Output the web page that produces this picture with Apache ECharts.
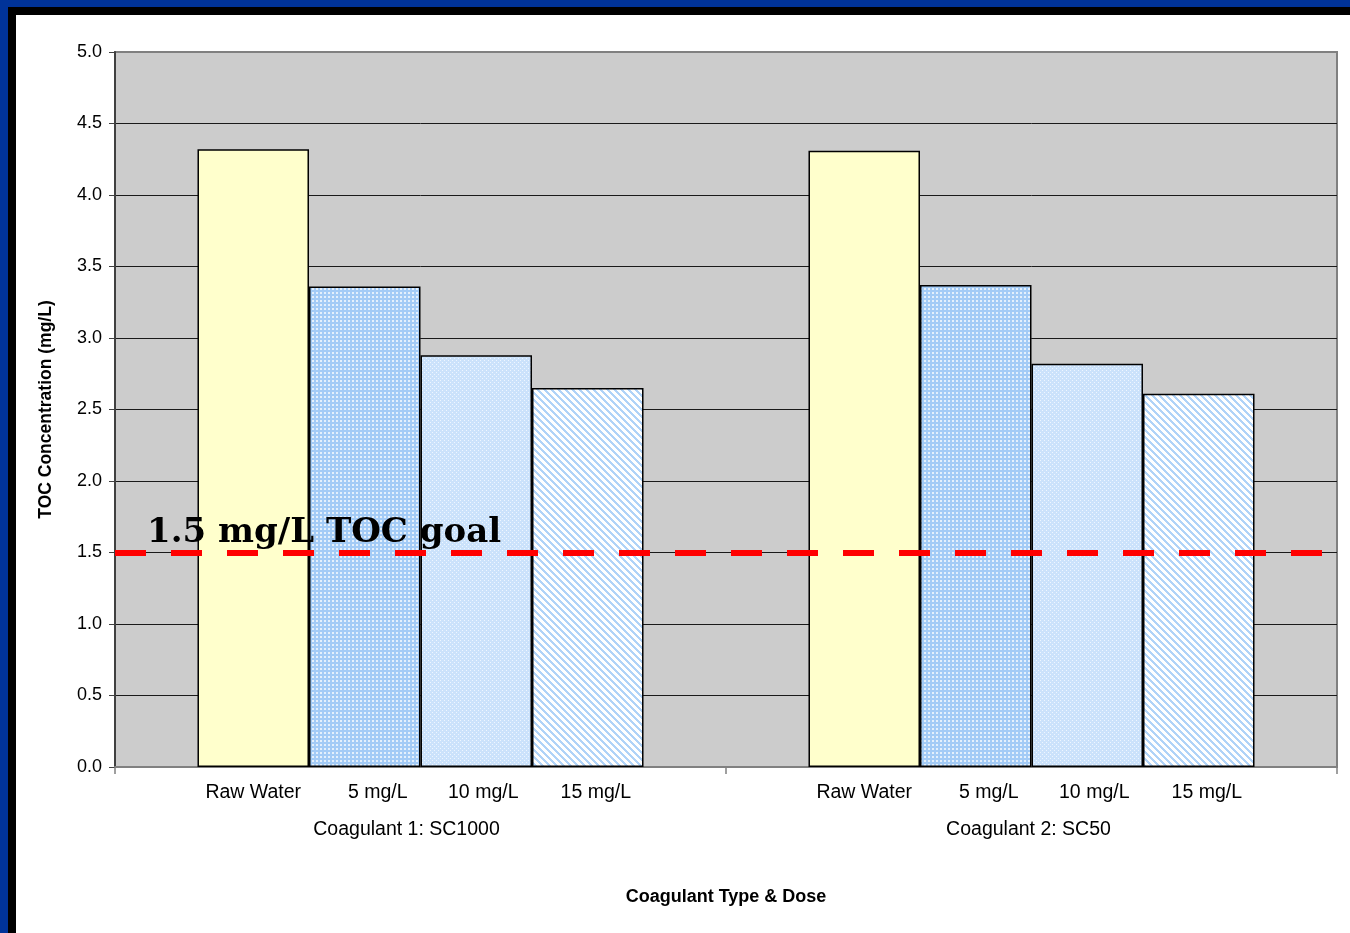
<!DOCTYPE html>
<html>
<head>
<meta charset="utf-8">
<title>TOC Concentration by Coagulant Type &amp; Dose</title>
<script src="https://cdn.jsdelivr.net/npm/echarts@6/dist/echarts.min.js"></script>
<style>
  html, body { margin: 0; padding: 0; }
  #frame { position: relative; width: 1350px; height: 933px; background: #003399; overflow: hidden; }
  #frame .band { position: absolute; left: 8px; top: 7px; right: 0; bottom: 0; background: #000; }
  #frame .paper { position: absolute; left: 16px; top: 15px; right: 0; bottom: 0; background: #fff; }
  #chart { position: absolute; left: 0; top: 0; width: 1350px; height: 933px; }
</style>
</head>
<body>
<div id="frame">
  <div class="band"></div>
  <div class="paper"></div>
  <div id="chart"></div>
</div>
<script>
// Coagulant groups on the category axis
const groups = ['Coagulant 1: SC1000', 'Coagulant 2: SC50'];
// Dose series (one bar per dose inside each group)
const doses = ['Raw Water', '5 mg/L', '10 mg/L', '15 mg/L'];
// TOC concentration (mg/L) per dose, in group order
const rawWater = [4.32, 4.31];
const dose5 = [3.36, 3.37];
const dose10 = [2.88, 2.82];
const dose15 = [2.65, 2.61];
// Treatment target
const tocGoal = 1.5;
const goalLabel = '1.5 mg/L TOC goal';
// Value axis ticks
const yTicks = { min: 0, max: 5, interval: 0.5 };

// Small repeating fills for the bars
function tile(w, h, paint) {
  const c = document.createElement('canvas');
  c.width = w; c.height = h;
  paint(c.getContext('2d'), w, h);
  return { image: c, repeat: 'repeat' };
}
const fillRaw = '#ffffcc';
const fillDots = tile(4, 4, (g) => {
  g.fillStyle = '#a3cbf6'; g.fillRect(0, 0, 4, 4);
  g.fillStyle = 'rgba(255,255,255,0.7)'; g.fillRect(0, 0, 2, 2);
});
const fillFine = tile(4, 4, (g) => {
  g.fillStyle = '#cbe2fb'; g.fillRect(0, 0, 4, 4);
  g.fillStyle = '#eef6ff'; g.fillRect(0, 0, 1, 1); g.fillRect(2, 2, 1, 1);
});
const fillStripes = tile(7, 7, (g) => {
  g.fillStyle = '#ffffff'; g.fillRect(0, 0, 7, 7);
  g.fillStyle = '#b0d3f8';
  for (let y = 0; y < 7; y++) for (let x = 0; x < 7; x++) {
    if (((x - y) % 7 + 7) % 7 < 3) g.fillRect(x, y, 1, 1);
  }
});

const values = [rawWater, dose5, dose10, dose15];
const fills = [fillRaw, fillDots, fillFine, fillStripes];
const labelShift = [0, 13, 7, 8];

const textFont = 'Liberation Sans, Arial, sans-serif';

const series = doses.map((name, i) => ({
  name: name,
  type: 'bar',
  data: values[i],
  barGap: '0%',
  barCategoryGap: '27%',
  itemStyle: { color: fills[i], borderColor: '#000', borderWidth: 1.5 },
  label: {
    show: true,
    position: 'bottom',
    distance: 16,
    offset: [labelShift[i], 0],
    formatter: '{a}',
    color: '#000',
    fontFamily: textFont,
    fontSize: 19.5
  },
  emphasis: { disabled: true }
}));

series[0].markLine = {
  silent: true,
  symbol: 'none',
  animation: false,
  lineStyle: { color: '#ff0000', width: 6, type: [31, 25], cap: 'butt' },
  label: {
    show: true,
    position: 'insideStartTop',
    formatter: goalLabel,
    distance: [32, 2],
    color: '#000',
    fontFamily: 'DejaVu Serif, serif',
    fontWeight: 'bold',
    fontSize: 34
  },
  data: [{ yAxis: tocGoal }]
};

const chart = echarts.init(document.getElementById('chart'), null, { renderer: 'canvas' });
chart.setOption({
  animation: false,
  backgroundColor: 'transparent',
  grid: {
    left: 115, right: 13, top: 52, bottom: 166,
    show: true, backgroundColor: '#cccccc', borderColor: '#808080', borderWidth: 2
  },
  xAxis: {
    type: 'category',
    data: groups.map((g, i) => ({ value: g, textStyle: { padding: i === 0 ? [0, 28, 0, 0] : [0, 6, 0, 0] } })),
    name: 'Coagulant Type & Dose',
    nameLocation: 'middle',
    nameGap: 121,
    nameTextStyle: { color: '#000', fontFamily: textFont, fontSize: 18, fontWeight: 'bold' },
    axisLine: { lineStyle: { color: '#808080', width: 2 } },
    axisTick: { show: true, length: 7, lineStyle: { color: '#808080', width: 1.5 } },
    axisLabel: { margin: 53, color: '#000', fontFamily: textFont, fontSize: 19.5 },
    splitLine: { show: false }
  },
  yAxis: {
    type: 'value',
    min: yTicks.min, max: yTicks.max, interval: yTicks.interval,
    name: 'TOC Concentration (mg/L)',
    nameLocation: 'middle',
    nameGap: 60,
    nameTextStyle: { color: '#000', fontFamily: textFont, fontSize: 17.5, fontWeight: 'bold' },
    axisLine: { show: true, lineStyle: { color: '#404040', width: 2 } },
    axisTick: { show: true, length: 6, lineStyle: { color: '#404040', width: 1 } },
    axisLabel: {
      margin: 13, color: '#000', fontFamily: textFont, fontSize: 18,
      formatter: (v) => v.toFixed(1)
    },
    splitLine: { show: true, showMinLine: false, showMaxLine: false, lineStyle: { color: '#1a1a1a', width: 1 } }
  },
  series: series
});
</script>
</body>
</html>
